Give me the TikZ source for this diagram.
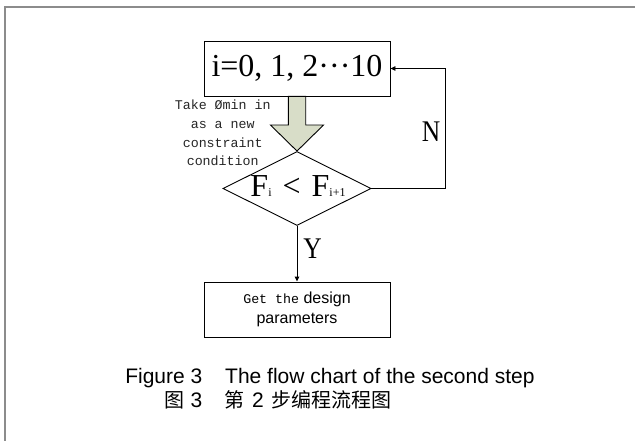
\documentclass[tikz,border=0pt]{standalone}
\usepackage{fontspec}
\setmainfont{Liberation Serif}
\setsansfont{Liberation Sans}
\setmonofont{Liberation Mono}
\newfontfamily\cjkfont{Noto Sans CJK SC}
\newfontfamily\narrowserif[FakeStretch=0.85]{Liberation Serif}
\usetikzlibrary{shapes.geometric, arrows.meta, calc}

\definecolor{framegray}{RGB}{140,140,140}
\definecolor{arrowfill}{RGB}{216,221,200}

\tikzset{
  flowbox/.style={draw, line width=0.9pt, minimum width=186pt, minimum height=55pt, inner sep=0pt},
  decision/.style={diamond, draw, line width=0.9pt, minimum width=148pt, minimum height=74pt, inner sep=0pt},
  link/.style={draw, line width=0.9pt, -{Triangle[length=5pt,width=4.5pt]}},
  bigserif/.style={font=\fontsize{32}{32}\selectfont},
  branchlabel/.style={font=\narrowserif\fontsize{30}{30}\selectfont, inner sep=0pt},
  captiontext/.style={font=\sffamily\fontsize{21}{21}\selectfont, inner sep=0pt}
}

\begin{document}
\begin{tikzpicture}[x=1pt, y=-1pt]
\useasboundingbox (0,0) rectangle (635,441);
\fill[white] (0,0) rectangle (635,441);

% outer frame (open at the right and bottom)
\draw[framegray, line width=2pt] (4.7,441) -- (4.7,6.7) -- (635,6.7);

% process boxes and decision
\node[flowbox, bigserif] (init) at (297,68.5) {i=0, 1, 2···10};
\node[decision] (cond) at (297,188.5) {};
\node[anchor=base, inner sep=0pt, font=\fontsize{32}{32}\selectfont] (condtext) at (298,196.7)
  {F{\fontsize{12}{12}\selectfont i}\hspace{11pt}<\hspace{11pt}F{\fontsize{12}{12}\selectfont i+1}};
\node[flowbox, align=center, font=\sffamily\fontsize{16}{19.5}\selectfont] (result) at (297,309.5)
  {{\ttfamily\fontsize{13.3}{19.5}\selectfont Get the} design\\parameters};

% wide block arrow from the loop box into the decision
\filldraw[fill=arrowfill, draw=black, line width=0.9pt]
  ($(init.south)+(-8.7,0)$) -- ($(cond.north)+(-8.7,-26)$) -- ($(cond.north)+(-26.5,-26)$)
  -- (cond.north) -- ($(cond.north)+(26.5,-26)$) -- ($(cond.north)+(8.7,-26)$)
  -- ($(init.south)+(8.7,0)$) -- cycle;

\node[align=center, inner sep=0pt, text=black!85, font=\ttfamily\fontsize{13.3}{18.7}\selectfont] (note) at (222.7,133)
  {Take Ømin in\\as a new\\constraint\\condition};

% branches
\coordinate (loop) at (445.5,0);
\draw[link] (cond.east) -- (cond.east -| loop) |- (init.east);
\draw[link] (cond.south) -- (result.north);
\node[branchlabel] (nlabel) at (431,132) {N};
\node[branchlabel] (ylabel) at (312.5,248.5) {Y};

% caption
\node[captiontext, anchor=base east] (capen) at (202.5,383.3) {Figure 3};
\node[captiontext, anchor=base west] (capentext) at (225,383.3) {The flow chart of the second step};
\node[captiontext, anchor=base east] (capzh) at (202.5,407.3) {{\cjkfont\fontsize{20}{20}\selectfont 图}\hspace{6pt}3};
\node[captiontext, anchor=base west] (capzhtext) at (224,407.3)
  {{\cjkfont\fontsize{20}{20}\selectfont 第}\hspace{8pt}2\hspace{8pt}{\cjkfont\fontsize{20}{20}\selectfont 步编程流程图}};
\end{tikzpicture}
\end{document}
